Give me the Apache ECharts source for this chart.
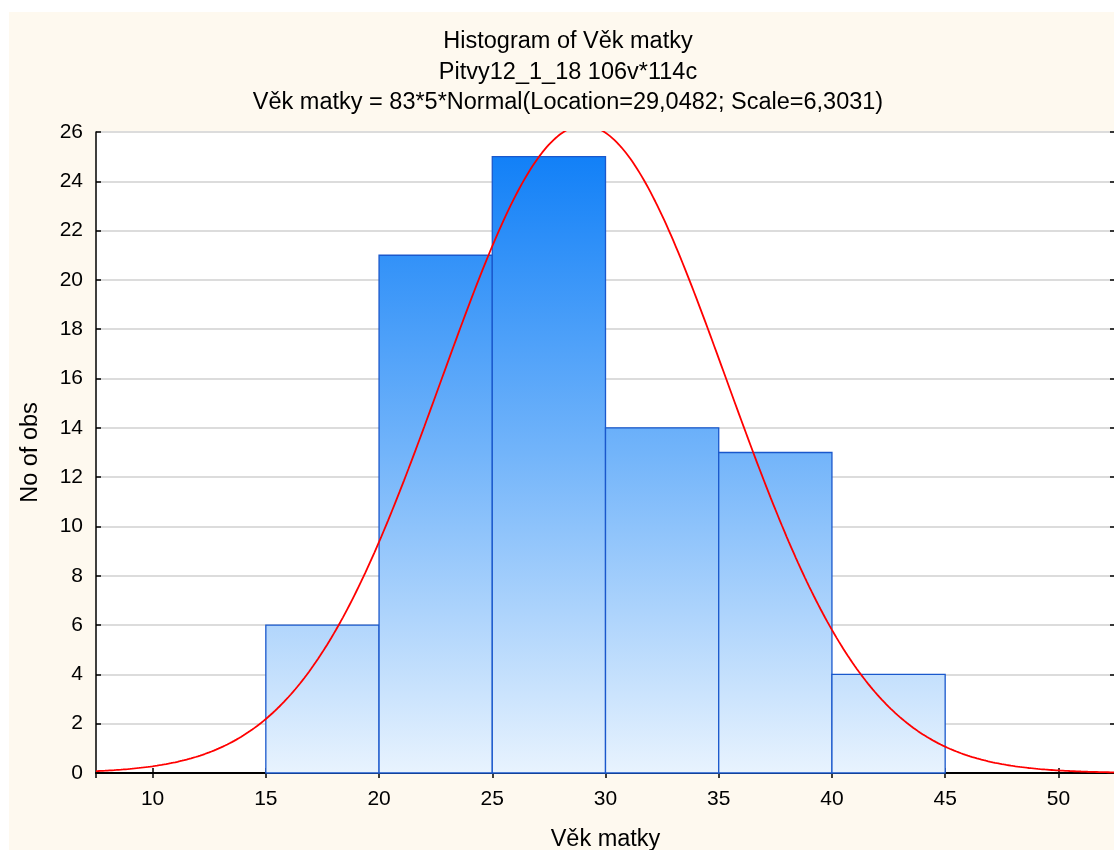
<!DOCTYPE html>
<html>
<head>
<meta charset="utf-8">
<title>Histogram of Věk matky</title>
<script src="https://cdn.jsdelivr.net/npm/echarts@6/dist/echarts.min.js"></script>
<style>
  html, body { margin: 0; padding: 0; background: #fff; overflow: hidden; }
  #chart { width: 1114px; height: 850px; }
</style>
</head>
<body>
<div id="chart"></div>
<script>
// Histogram bins (lower edges) and counts of mothers' age
const binStarts = [15, 20, 25, 30, 35, 40];
const binWidth = 5;
const counts = [6, 21, 25, 14, 13, 4];

// Fitted normal curve parameters, as printed in the subtitle
const nObs = 83;
const fitLocation = 29.0482;
const fitScale = 6.3031;

// Axis ranges and ticks
const xMin = 7.5, xMax = 52.5, xStep = 5;
const yMin = 0, yMax = 26, yStep = 2;

const titleLines = [
  'Histogram of Věk matky',
  'Pitvy12_1_18 106v*114c',
  'Věk matky = 83*5*Normal(Location=29,0482; Scale=6,3031)'
];
const xName = 'Věk matky';
const yName = 'No of obs';

// Histogram bars as [from, to, count]
const barData = binStarts.map((s, i) => [s, s + binWidth, counts[i]]);

// Expected counts per bin from the fitted normal: N * binWidth * pdf(x)
const curveData = [];
for (let k = 0; k <= 450; k++) {
  const x = xMin + k * 0.1;
  const z = (x - fitLocation) / fitScale;
  const y = nObs * binWidth * Math.exp(-0.5 * z * z) / (fitScale * Math.sqrt(2 * Math.PI));
  curveData.push([+x.toFixed(2), y]);
}

const FONT = 'Liberation Sans, Arial, sans-serif';

const chart = echarts.init(document.getElementById('chart'), null, { renderer: 'canvas' });

const barFill = {
  type: 'linear', x: 0, y: 132, x2: 0, y2: 773, global: true,
  colorStops: [
    { offset: 0, color: '#0a7cf7' },
    { offset: 0.5, color: '#72b4fa' },
    { offset: 1, color: '#e8f3fe' }
  ]
};

const commonX = {
  type: 'value', min: xMin, max: xMax, minInterval: xStep, maxInterval: xStep,
  splitLine: { show: false }
};
const commonY = {
  type: 'value', min: yMin, max: yMax, interval: yStep
};

chart.setOption({
  backgroundColor: '#fef9ef',
  animation: false,
  textStyle: { fontFamily: FONT },
  graphic: [
    // white margin strips around the cream panel
    { type: 'rect', left: 0, top: 0, shape: { width: 1114, height: 12 }, style: { fill: '#ffffff' }, silent: true },
    { type: 'rect', left: 0, top: 0, shape: { width: 9, height: 850 }, style: { fill: '#ffffff' }, silent: true },
    ...titleLines.map((t, i) => ({
      type: 'text', x: 568, y: 42 + i * 30.5,
      style: { text: t, font: '23.5px ' + FONT, fill: '#000', align: 'center', verticalAlign: 'middle' },
      silent: true
    }))
  ],
  grid: {
    left: 96, top: 132, right: -1, bottom: 77,
    outerBoundsMode: 'none', containLabel: false,
    show: true, backgroundColor: '#ffffff', borderWidth: 0
  },
  xAxis: [
    Object.assign({}, commonX, {
      position: 'bottom',
      name: xName, nameLocation: 'middle', nameGap: 55,
      nameTextStyle: { fontSize: 23.5, color: '#000', fontFamily: FONT },
      axisLine: { show: true, lineStyle: { color: '#000', width: 2.2 } },
      axisTick: { show: true, inside: true, length: 5, lineStyle: { color: '#000', width: 1.5 } },
      axisLabel: { fontSize: 21, color: '#000', margin: 16, showMinLabel: false, showMaxLabel: false, fontFamily: FONT }
    }),
    Object.assign({}, commonX, {
      position: 'top',
      axisLine: { show: true, lineStyle: { color: '#000', width: 1.5 } },
      axisTick: { show: true, inside: true, length: 5, lineStyle: { color: '#000', width: 1.5 } },
      axisLabel: { show: false }
    })
  ],
  yAxis: [
    Object.assign({}, commonY, {
      position: 'left',
      name: yName, nameLocation: 'middle', nameGap: 53, nameRotate: 90,
      nameTextStyle: { fontSize: 23.5, color: '#000', fontFamily: FONT },
      axisLine: { show: true, lineStyle: { color: '#000', width: 1.5 } },
      axisTick: { show: true, inside: true, length: 5, lineStyle: { color: '#000', width: 1.5 } },
      axisLabel: { fontSize: 21, color: '#000', margin: 13, fontFamily: FONT },
      splitLine: { show: true, lineStyle: { color: '#dcdcdc', width: 2 } }
    }),
    Object.assign({}, commonY, {
      position: 'right',
      axisLine: { show: true, lineStyle: { color: '#000', width: 1.5 } },
      axisTick: { show: true, inside: true, length: 5, lineStyle: { color: '#000', width: 1.5 } },
      axisLabel: { show: false },
      splitLine: { show: false }
    })
  ],
  series: [
    {
      type: 'custom',
      xAxisIndex: 0, yAxisIndex: 0,
      data: barData,
      encode: { x: [0, 1], y: 2 },
      z: 2,
      renderItem: function (params, api) {
        const p0 = api.coord([api.value(0), api.value(2)]);
        const p1 = api.coord([api.value(1), 0]);
        return {
          type: 'rect',
          shape: { x: p0[0], y: p0[1], width: p1[0] - p0[0], height: p1[1] - p0[1] },
          style: { fill: barFill, stroke: '#1a58cc', lineWidth: 1.3 }
        };
      }
    },
    {
      type: 'line',
      xAxisIndex: 0, yAxisIndex: 0,
      data: curveData,
      showSymbol: false,
      smooth: false,
      z: 3,
      lineStyle: { color: '#ff0000', width: 1.8 }
    }
  ]
});
</script>
</body>
</html>
